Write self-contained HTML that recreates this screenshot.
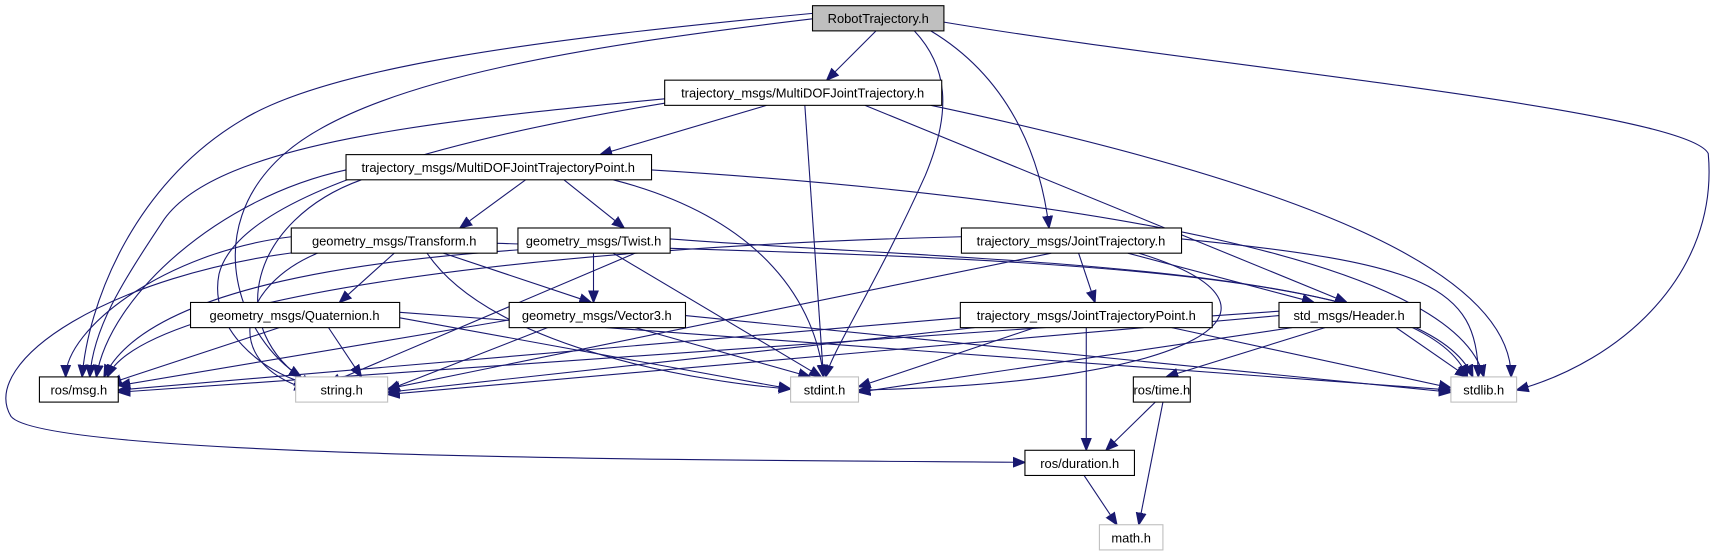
<!DOCTYPE html>
<html><head><meta charset="utf-8"><style>
html,body{margin:0;padding:0;background:#fff;}
svg{display:block;}
text{font-family:"Liberation Sans",sans-serif;font-size:11.8px;fill:#000;}
path{fill:none;stroke:#191970;stroke-width:1;}
</style></head><body>
<svg width="1717" height="560" viewBox="0 0 1568 511" xmlns="http://www.w3.org/2000/svg">
<defs><marker id="a" viewBox="0 0 10 10" refX="10" refY="5" markerWidth="11" markerHeight="11" markerUnits="userSpaceOnUse" orient="auto"><path d="M0,1 L10,5 L0,9 z" style="fill:#191970;stroke:#191970"/></marker></defs>
<g marker-end="url(#a)">
<path d="M800,28 L755,73"/>
<path d="M742,12 C500,35 300,60 220,110 C120,170 80,280 75,344"/>
<path d="M742,17 C550,40 340,70 260,140 C180,210 220,310 275,344"/>
<path d="M835,28 C865,60 870,100 845,160 C800,260 760,320 754,344"/>
<path d="M850,28 C920,70 950,140 958,208"/>
<path d="M862,20 C1100,60 1540,100 1560,140 C1570,250 1480,330 1385,356"/>
<path d="M700,96 L548,141"/>
<path d="M607,90 C400,110 200,130 150,200 C110,260 85,300 82,344"/>
<path d="M607,94 C450,120 220,170 200,250 C190,300 240,340 280,350"/>
<path d="M735,96 L752,344"/>
<path d="M790,96 L1230,276"/>
<path d="M850,96 C1200,170 1380,250 1380,344"/>
<path d="M480,164 L420,208"/>
<path d="M515,164 L570,208"/>
<path d="M316,155 C200,180 100,270 88,344"/>
<path d="M330,164 C230,200 200,300 285,352"/>
<path d="M560,164 C700,200 745,280 752,344"/>
<path d="M595,155 C1000,180 1330,240 1355,344"/>
<path d="M360,231 L310,276"/>
<path d="M405,231 L540,276"/>
<path d="M266,216 C150,230 60,300 60,344"/>
<path d="M290,231 C220,260 200,330 280,355"/>
<path d="M390,231 C450,320 650,350 722,355"/>
<path d="M454,222 C900,235 1300,240 1345,344"/>
<path d="M280,229 C100,250 -20,330 10,380 C40,420 700,420 936,422"/>
<path d="M580,231 L300,350"/>
<path d="M542,231 L542,276"/>
<path d="M560,231 L750,344"/>
<path d="M612,218 C900,240 1300,240 1340,344"/>
<path d="M473,228 C300,240 130,270 95,344"/>
<path d="M255,299 L100,350"/>
<path d="M300,299 L330,344"/>
<path d="M365,290 L722,355"/>
<path d="M365,285 L1325,356"/>
<path d="M465,292 L108,352"/>
<path d="M500,299 L354,356"/>
<path d="M580,299 L740,344"/>
<path d="M626,288 L1325,358"/>
<path d="M878,216 C500,225 130,270 98,344"/>
<path d="M960,231 L354,355"/>
<path d="M985,231 L1000,276"/>
<path d="M1030,231 L1200,276"/>
<path d="M1040,231 C1200,280 1100,350 784,356"/>
<path d="M1079,218 C1300,240 1350,260 1350,344"/>
<path d="M877,290 L108,356"/>
<path d="M890,299 L354,358"/>
<path d="M945,299 L784,353"/>
<path d="M992,299 L992,411"/>
<path d="M1070,299 L1325,354"/>
<path d="M1168,284 L108,358"/>
<path d="M1168,288 L354,360"/>
<path d="M1180,299 L784,358"/>
<path d="M1275,299 L1340,344"/>
<path d="M1210,299 L1065,344"/>
<path d="M1055,367 L1010,411"/>
<path d="M1062,367 L1040,479"/>
<path d="M990,434 L1020,479"/>
</g>
<g stroke="#000" stroke-width="1" fill="#fff">
<rect x="742" y="5" width="120" height="23" fill="#bfbfbf"/>
<rect x="607" y="73" width="253" height="23"/>
<rect x="316" y="141" width="279" height="23"/>
<rect x="266" y="208" width="188" height="23"/>
<rect x="473" y="208" width="139" height="23"/>
<rect x="878" y="208" width="201" height="23"/>
<rect x="174" y="276" width="191" height="23"/>
<rect x="465" y="276" width="161" height="23"/>
<rect x="877" y="276" width="230" height="23"/>
<rect x="1168" y="276" width="129" height="23"/>
<rect x="36" y="344" width="72" height="23"/>
<rect x="1035" y="344" width="52" height="23"/>
<rect x="936" y="411" width="100" height="23"/>
<rect x="270" y="344" width="84" height="23" stroke="#bfbfbf"/>
<rect x="722" y="344" width="62" height="23" stroke="#bfbfbf"/>
<rect x="1325" y="344" width="60" height="23" stroke="#bfbfbf"/>
<rect x="1004" y="479" width="58" height="23" stroke="#bfbfbf"/>
</g>
<g text-anchor="middle">
<text x="802" y="21">RobotTrajectory.h</text>
<text x="733" y="89">trajectory_msgs/MultiDOFJointTrajectory.h</text>
<text x="455" y="157">trajectory_msgs/MultiDOFJointTrajectoryPoint.h</text>
<text x="360" y="224">geometry_msgs/Transform.h</text>
<text x="542" y="224">geometry_msgs/Twist.h</text>
<text x="978" y="224">trajectory_msgs/JointTrajectory.h</text>
<text x="269" y="292">geometry_msgs/Quaternion.h</text>
<text x="545" y="292">geometry_msgs/Vector3.h</text>
<text x="992" y="292">trajectory_msgs/JointTrajectoryPoint.h</text>
<text x="1232" y="292">std_msgs/Header.h</text>
<text x="72" y="360">ros/msg.h</text>
<text x="312" y="360">string.h</text>
<text x="753" y="360">stdint.h</text>
<text x="1355" y="360">stdlib.h</text>
<text x="1061" y="360">ros/time.h</text>
<text x="986" y="427">ros/duration.h</text>
<text x="1033" y="495">math.h</text>
</g>
</svg>
</body></html>
